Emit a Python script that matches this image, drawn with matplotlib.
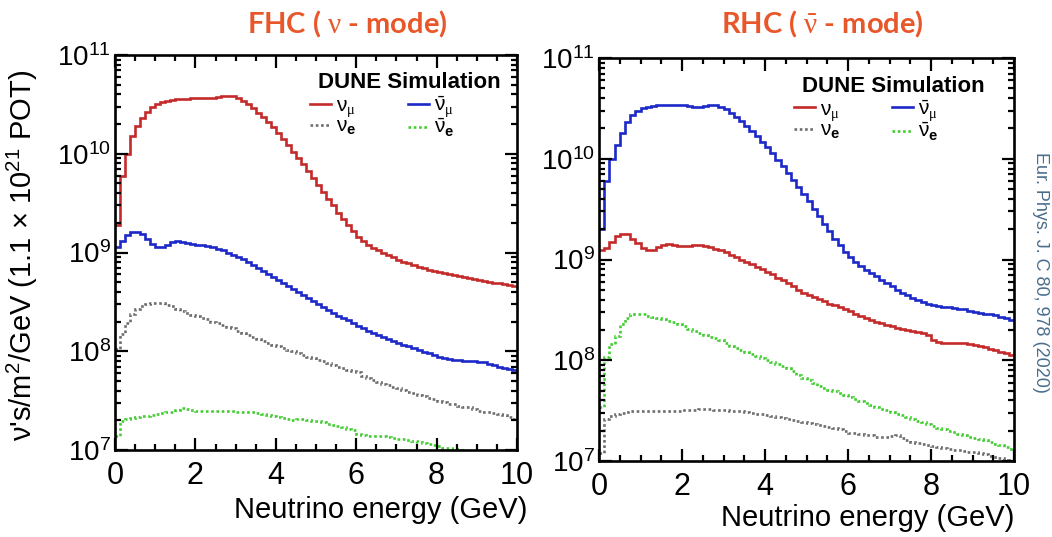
import numpy as np
import matplotlib
matplotlib.use("Agg")
import matplotlib.pyplot as plt
from matplotlib.ticker import MultipleLocator, LogLocator, NullFormatter

plt.rcParams['font.family'] = ['Liberation Sans', 'DejaVu Sans']
plt.rcParams['mathtext.fontset'] = 'custom'
plt.rcParams['mathtext.rm'] = 'Liberation Sans'
plt.rcParams['mathtext.it'] = 'Liberation Sans'
plt.rcParams['mathtext.bf'] = 'Liberation Sans:bold'
plt.rcParams['mathtext.sf'] = 'Liberation Serif'

# ---------------- data (flux per bin, 0.125 GeV bins from 0 to 10 GeV) ----------------
bin_edges = np.linspace(0, 10, 81)

fhc_numu = [1.9e9, 6.0e9, 1.0e10, 1.5e10, 1.9e10, 2.3e10, 2.65e10, 2.95e10, 3.2e10, 3.35e10,
            3.45e10, 3.5e10, 3.55e10, 3.6e10, 3.62e10, 3.65e10, 3.65e10, 3.68e10, 3.7e10, 3.68e10,
            3.72e10, 3.8e10, 3.88e10, 3.85e10, 3.7e10, 3.45e10, 3.2e10, 2.9e10, 2.6e10, 2.35e10,
            2.1e10, 1.85e10, 1.62e10, 1.42e10, 1.22e10, 1.05e10, 9.0e9, 7.8e9, 6.7e9, 5.7e9,
            4.8e9, 4.1e9, 3.5e9, 3.0e9, 2.5e9, 2.2e9, 1.9e9, 1.65e9, 1.45e9, 1.3e9,
            1.2e9, 1.12e9, 1.05e9, 1.0e9, 9.4e8, 9.0e8, 8.4e8, 8.1e8, 7.8e8, 7.5e8,
            7.2e8, 6.9e8, 6.6e8, 6.45e8, 6.3e8, 6.15e8, 6.0e8, 5.9e8, 5.8e8, 5.65e8,
            5.5e8, 5.4e8, 5.3e8, 5.15e8, 5.0e8, 4.95e8, 4.9e8, 4.8e8, 4.7e8, 4.6e8]
fhc_numubar = [1.15e9, 1.3e9, 1.5e9, 1.62e9, 1.62e9, 1.55e9, 1.38e9, 1.23e9, 1.15e9, 1.14e9,
               1.2e9, 1.27e9, 1.3e9, 1.28e9, 1.25e9, 1.22e9, 1.2e9, 1.18e9, 1.16e9, 1.13e9,
               1.09e9, 1.05e9, 1.0e9, 9.5e8, 9.0e8, 8.5e8, 8.0e8, 7.5e8, 7.0e8, 6.5e8,
               6.0e8, 5.6e8, 5.3e8, 4.9e8, 4.6e8, 4.3e8, 3.95e8, 3.7e8, 3.45e8, 3.2e8,
               3.0e8, 2.8e8, 2.6e8, 2.45e8, 2.3e8, 2.15e8, 2.05e8, 1.95e8, 1.82e8, 1.72e8,
               1.62e8, 1.53e8, 1.45e8, 1.38e8, 1.32e8, 1.27e8, 1.22e8, 1.17e8, 1.12e8, 1.07e8,
               1.03e8, 9.9e7, 9.5e7, 9.1e7, 8.8e7, 8.6e7, 8.4e7, 8.2e7, 8.1e7, 8.0e7,
               8.0e7, 7.9e7, 7.8e7, 7.7e7, 7.5e7, 7.3e7, 7.0e7, 6.8e7, 6.6e7, 6.4e7]
fhc_nue = [1.05e8, 1.5e8, 1.95e8, 2.4e8, 2.7e8, 2.9e8, 3.0e8, 3.1e8, 3.1e8, 3.05e8,
           2.95e8, 2.85e8, 2.7e8, 2.55e8, 2.45e8, 2.35e8, 2.25e8, 2.15e8, 2.1e8, 2.0e8,
           1.95e8, 1.85e8, 1.78e8, 1.7e8, 1.62e8, 1.52e8, 1.45e8, 1.38e8, 1.32e8, 1.27e8,
           1.22e8, 1.17e8, 1.13e8, 1.08e8, 1.04e8, 1.0e8, 9.5e7, 9.1e7, 8.8e7, 8.5e7,
           8.2e7, 7.9e7, 7.6e7, 7.3e7, 7.0e7, 6.8e7, 6.5e7, 6.3e7, 6.1e7, 5.6e7,
           5.3e7, 5.1e7, 4.9e7, 4.7e7, 4.5e7, 4.35e7, 4.2e7, 4.05e7, 3.9e7, 3.75e7,
           3.6e7, 3.5e7, 3.35e7, 3.25e7, 3.15e7, 3.05e7, 2.95e7, 2.9e7, 2.8e7, 2.75e7,
           2.7e7, 2.6e7, 2.5e7, 2.45e7, 2.4e7, 2.35e7, 2.3e7, 2.25e7, 2.15e7, 2.05e7]
fhc_nuebar = [1.4e7, 1.95e7, 2.05e7, 2.1e7, 2.15e7, 2.2e7, 2.2e7, 2.25e7, 2.3e7, 2.35e7,
              2.4e7, 2.45e7, 2.55e7, 2.65e7, 2.6e7, 2.55e7, 2.5e7, 2.5e7, 2.5e7, 2.5e7,
              2.5e7, 2.5e7, 2.5e7, 2.48e7, 2.45e7, 2.45e7, 2.42e7, 2.4e7, 2.35e7, 2.3e7,
              2.25e7, 2.2e7, 2.15e7, 2.1e7, 2.05e7, 2.0e7, 2.05e7, 2.05e7, 2.0e7, 1.98e7,
              1.95e7, 1.9e7, 1.85e7, 1.8e7, 1.75e7, 1.7e7, 1.62e7, 1.58e7, 1.45e7, 1.42e7,
              1.4e7, 1.4e7, 1.38e7, 1.37e7, 1.35e7, 1.33e7, 1.3e7, 1.28e7, 1.25e7, 1.22e7,
              1.2e7, 1.18e7, 1.15e7, 1.12e7, 1.1e7, 1.06e7, 1.04e7, 1.02e7, 1.0e7, 9.7e6,
              9.5e6, 9.3e6, 9.1e6, 9.0e6, 8.8e6, 8.6e6, 8.5e6, 8.3e6, 8.2e6, 8.0e6]

rhc_numu = [1.23e9, 1.3e9, 1.5e9, 1.72e9, 1.8e9, 1.78e9, 1.6e9, 1.45e9, 1.3e9, 1.23e9,
            1.24e9, 1.33e9, 1.4e9, 1.42e9, 1.38e9, 1.36e9, 1.35e9, 1.36e9, 1.38e9, 1.38e9,
            1.36e9, 1.33e9, 1.28e9, 1.23e9, 1.18e9, 1.12e9, 1.06e9, 1.0e9, 9.5e8, 9.0e8,
            8.5e8, 8.0e8, 7.6e8, 7.1e8, 6.6e8, 6.2e8, 5.8e8, 5.4e8, 5.0e8, 4.7e8,
            4.45e8, 4.25e8, 4.05e8, 3.85e8, 3.65e8, 3.5e8, 3.35e8, 3.2e8, 3.05e8, 2.9e8,
            2.78e8, 2.65e8, 2.52e8, 2.42e8, 2.33e8, 2.25e8, 2.17e8, 2.1e8, 2.05e8, 2.0e8,
            1.95e8, 1.9e8, 1.85e8, 1.8e8, 1.6e8, 1.52e8, 1.5e8, 1.5e8, 1.5e8, 1.5e8,
            1.48e8, 1.45e8, 1.42e8, 1.38e8, 1.34e8, 1.3e8, 1.26e8, 1.22e8, 1.18e8, 1.14e8]
rhc_numubar = [2.0e9, 6.0e9, 1.0e10, 1.37e10, 1.82e10, 2.33e10, 2.7e10, 3.0e10, 3.2e10, 3.3e10,
               3.35e10, 3.38e10, 3.4e10, 3.42e10, 3.43e10, 3.43e10, 3.4e10, 3.35e10, 3.3e10, 3.28e10,
               3.35e10, 3.42e10, 3.45e10, 3.3e10, 3.1e10, 2.85e10, 2.6e10, 2.35e10, 2.1e10, 1.9e10,
               1.68e10, 1.48e10, 1.3e10, 1.13e10, 9.8e9, 8.5e9, 7.3e9, 6.2e9, 5.3e9, 4.5e9,
               3.8e9, 3.2e9, 2.7e9, 2.25e9, 1.9e9, 1.6e9, 1.38e9, 1.2e9, 1.05e9, 9.5e8,
               8.6e8, 7.9e8, 7.3e8, 6.8e8, 6.3e8, 5.8e8, 5.4e8, 5.0e8, 4.7e8, 4.4e8,
               4.15e8, 3.95e8, 3.8e8, 3.65e8, 3.5e8, 3.45e8, 3.4e8, 3.35e8, 3.3e8, 3.25e8,
               3.2e8, 3.1e8, 3.0e8, 2.95e8, 2.9e8, 2.85e8, 2.8e8, 2.7e8, 2.6e8, 2.5e8]
rhc_nue = [1.2e7, 2.6e7, 2.8e7, 2.95e7, 3.0e7, 3.05e7, 3.1e7, 3.1e7, 3.12e7, 3.12e7,
           3.15e7, 3.15e7, 3.15e7, 3.15e7, 3.15e7, 3.15e7, 3.18e7, 3.2e7, 3.2e7, 3.25e7,
           3.3e7, 3.28e7, 3.22e7, 3.2e7, 3.18e7, 3.15e7, 3.12e7, 3.1e7, 3.05e7, 3.0e7,
           2.95e7, 2.9e7, 2.85e7, 2.8e7, 2.72e7, 2.65e7, 2.6e7, 2.55e7, 2.5e7, 2.45e7,
           2.4e7, 2.35e7, 2.3e7, 2.25e7, 2.2e7, 2.15e7, 2.1e7, 2.0e7, 1.9e7, 1.88e7,
           1.85e7, 1.82e7, 1.8e7, 1.75e7, 1.72e7, 1.72e7, 1.78e7, 1.8e7, 1.7e7, 1.62e7,
           1.55e7, 1.52e7, 1.48e7, 1.45e7, 1.42e7, 1.38e7, 1.35e7, 1.32e7, 1.3e7, 1.28e7,
           1.26e7, 1.24e7, 1.22e7, 1.2e7, 1.17e7, 1.13e7, 1.1e7, 1.06e7, 1.02e7, 9.8e6]
rhc_nuebar = [3.4e7, 1.07e8, 1.45e8, 1.75e8, 2.3e8, 2.6e8, 2.85e8, 2.9e8, 2.85e8, 2.75e8,
              2.7e8, 2.6e8, 2.55e8, 2.45e8, 2.4e8, 2.3e8, 2.2e8, 2.05e8, 1.95e8, 1.85e8,
              1.78e8, 1.72e8, 1.66e8, 1.6e8, 1.5e8, 1.4e8, 1.33e8, 1.25e8, 1.2e8, 1.15e8,
              1.1e8, 1.05e8, 1.0e8, 9.6e7, 9.2e7, 8.8e7, 8.3e7, 7.8e7, 7.2e7, 6.7e7,
              6.3e7, 6.0e7, 5.6e7, 5.3e7, 5.1e7, 4.9e7, 4.7e7, 4.5e7, 4.3e7, 4.1e7,
              3.95e7, 3.8e7, 3.6e7, 3.45e7, 3.3e7, 3.2e7, 3.05e7, 2.95e7, 2.85e7, 2.75e7,
              2.62e7, 2.52e7, 2.45e7, 2.35e7, 2.25e7, 2.15e7, 2.1e7, 2.0e7, 1.92e7, 1.87e7,
              1.82e7, 1.75e7, 1.7e7, 1.65e7, 1.6e7, 1.55e7, 1.48e7, 1.43e7, 1.38e7, 1.33e7]

labels = [r"$\nu_{\mathsf{\mu}}$", r"$\nu_{\mathbf{e}}$", r"$\bar{\nu}_{\mathsf{\mu}}$", r"$\bar{\nu}_{\mathbf{e}}$"]
titles = [r"FHC ( $\mathsf{\nu}$ - mode)", r"RHC ( $\bar{\mathsf{\nu}}$ - mode)"]
xlabel = "Neutrino energy (GeV)"
ylabel = r"$\nu$'s/m$^2$/GeV (1.1 $\times$ 10$^{21}$ POT)"
side_text = "Eur. Phys. J. C 80, 978 (2020)"

C_RED = '#c42a2a'
C_BLUE = '#1c28c8'
C_GRAY = '#6e6e6e'
C_GREEN = '#44cc33'
LW = 1.9
DOT = (0, (1.0, 1.0))

fig = plt.figure(figsize=(10.52, 5.37), dpi=100)
axL = fig.add_axes([115/1052, 1-450/537, 402/1052, 395/537])
axR = fig.add_axes([599/1052, 1-461/537, 415/1052, 403/537])

panels = [
    (axL, fhc_numu, fhc_nue, fhc_numubar, fhc_nuebar),
    (axR, rhc_numu, rhc_nue, rhc_numubar, rhc_nuebar),
]

for ax, numu, nue, numubar, nuebar in panels:
    h1 = ax.stairs(numu, bin_edges, baseline=None, color=C_RED, lw=LW)
    h2 = ax.stairs(nue, bin_edges, baseline=None, color=C_GRAY, lw=LW, linestyle=DOT)
    h3 = ax.stairs(numubar, bin_edges, baseline=None, color=C_BLUE, lw=LW)
    h4 = ax.stairs(nuebar, bin_edges, baseline=None, color=C_GREEN, lw=LW, linestyle=DOT)
    ax.set_yscale('log')
    ax.set_xlim(0, 10)
    ax.set_ylim(1e7, 1e11)
    ax.xaxis.set_major_locator(MultipleLocator(2))
    ax.xaxis.set_minor_locator(MultipleLocator(0.5))
    ax.yaxis.set_major_locator(LogLocator(base=10, numticks=10))
    ax.yaxis.set_minor_locator(LogLocator(base=10, subs=np.arange(2, 10), numticks=10))
    ax.yaxis.set_minor_formatter(NullFormatter())
    ax.tick_params(which='both', direction='in', top=True, right=True, width=1.6)
    ax.tick_params(which='major', length=9)
    ax.tick_params(axis='y', which='major', labelsize=20, pad=3)
    ax.tick_params(axis='x', which='major', labelsize=22, pad=8)
    ax.tick_params(which='minor', length=4.5)
    for s in ax.spines.values():
        s.set_linewidth(1.9)
    ax.text(0.505 if ax is axL else 0.49, 0.93, "DUNE Simulation", transform=ax.transAxes,
            fontsize=16, fontweight='bold', ha='left', va='center')
    leg = ax.legend([h1, h2, h3, h4], labels, ncol=2, frameon=False, loc='upper left',
                    bbox_to_anchor=(0.485 if ax is axL else 0.47, 0.9), fontsize=15,
                    handlelength=1.0, handletextpad=0.25, columnspacing=2.5, labelspacing=-0.1,
                    borderaxespad=0.0, borderpad=0.0)

    ax.text(1.025 if ax is axL else 1.0, -0.152 if ax is axL else -0.141, xlabel,
            transform=ax.transAxes, fontsize=21, ha='right', va='center')

axL.text(-0.231, 0.962, ylabel, transform=axL.transAxes, rotation=90, fontsize=21,
         ha='center', va='top')

fig.text(347/1052, 1-24/537, titles[0], fontsize=21, fontweight='bold', color='#e8572a',
         family=['Lato', 'DejaVu Sans'], ha='center', va='center')
fig.text(822/1052, 1-24/537, titles[1], fontsize=21, fontweight='bold', color='#e8572a',
         family=['Lato', 'DejaVu Sans'], ha='center', va='center')

fig.text(1041/1052, 1-272/537, side_text, rotation=-90, fontsize=13, color='#4a6d8c',
         ha='center', va='center')

fig.savefig("out.png", dpi=100)
